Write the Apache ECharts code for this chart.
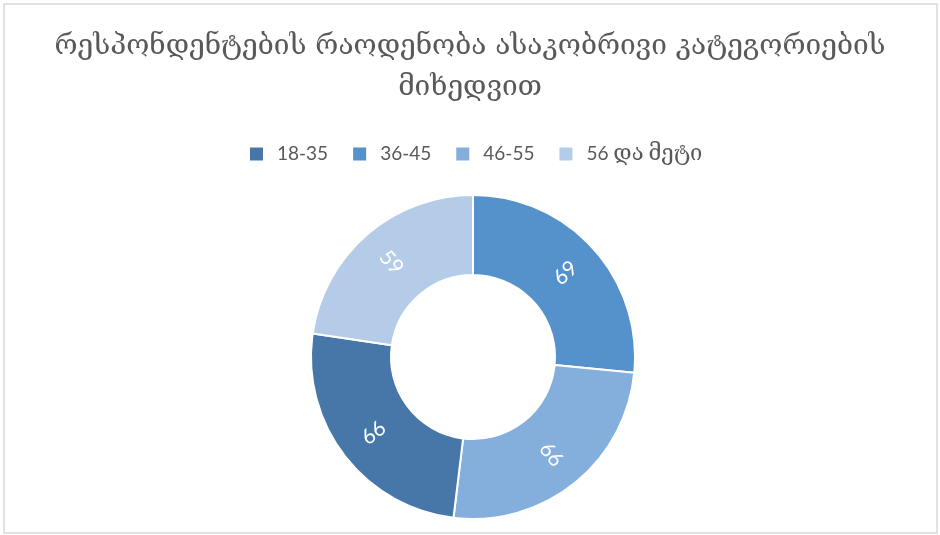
<!DOCTYPE html>
<html>
<head>
<meta charset="utf-8">
<script src="https://cdn.jsdelivr.net/npm/echarts@6/dist/echarts.min.js"></script>
<style>
  html, body { margin: 0; padding: 0; background: #ffffff; }
  #chart { width: 940px; height: 535px; }
</style>
</head>
<body>
<div id="chart"></div>
<script>
// Age groups, in legend order, and respondent counts per group
const categories = ['18-35', '36-45', '46-55', '56 და მეტი'];
const counts = [66, 69, 66, 59];
// Order in which the ring segments run clockwise from 12 o'clock
const ringOrder = ['36-45', '46-55', '18-35', '56 და მეტი'];
const colors = ['#4677A8', '#5591CB', '#84AEDC', '#B5CCE8'];

const titleText = 'რესპონდენტების რაოდენობა ასაკობრივი კატეგორიების\nმიხედვით';

const ringData = ringOrder.map(function (name) {
  const i = categories.indexOf(name);
  return { name: name, value: counts[i], itemStyle: { color: colors[i] } };
});

// Georgian words in legend names get their own, slightly larger, text style
function legendLabel(name) {
  return name.replace(/([\u10A0-\u10FF]+)/g, '{ka|$1}');
}

const chart = echarts.init(document.getElementById('chart'), null, { renderer: 'canvas' });

chart.setOption({
  animation: false,
  backgroundColor: '#ffffff',
  graphic: [{
    type: 'rect',
    shape: { x: 4, y: 4, width: 933, height: 529 },
    style: { fill: 'none', stroke: '#d9d9d9', lineWidth: 1.5 },
    silent: true
  }],
  title: {
    text: titleText,
    left: 'center',
    top: 21,
    textStyle: {
      fontFamily: '"DejaVu Serif", "DejaVu Sans", sans-serif',
      fontSize: 28,
      fontWeight: 'normal',
      color: '#595959',
      lineHeight: 41
    }
  },
  legend: {
    data: categories,
    top: 138,
    left: 243,
    itemWidth: 15,
    itemHeight: 15,
    itemGap: 23,
    icon: 'rect',
    formatter: legendLabel,
    textStyle: {
      fontFamily: 'Lato, "DejaVu Serif", sans-serif',
      fontSize: 19,
      color: '#595959',
      padding: [0, 0, 0, 8],
      rich: {
        ka: {
          fontFamily: '"DejaVu Serif", "DejaVu Sans", sans-serif',
          fontSize: 22,
          color: '#595959'
        }
      }
    }
  },
  series: [{
    type: 'pie',
    center: [473, 357],
    radius: [82, 162],
    startAngle: 90,
    clockwise: true,
    avoidLabelOverlap: false,
    itemStyle: { borderColor: '#ffffff', borderWidth: 2 },
    label: {
      show: true,
      position: 'inside',
      rotate: 'radial',
      formatter: '{c}',
      color: '#ffffff',
      fontFamily: 'Lato, sans-serif',
      fontSize: 21
    },
    labelLine: { show: false },
    emphasis: { disabled: true },
    data: ringData
  }]
});
</script>
</body>
</html>
